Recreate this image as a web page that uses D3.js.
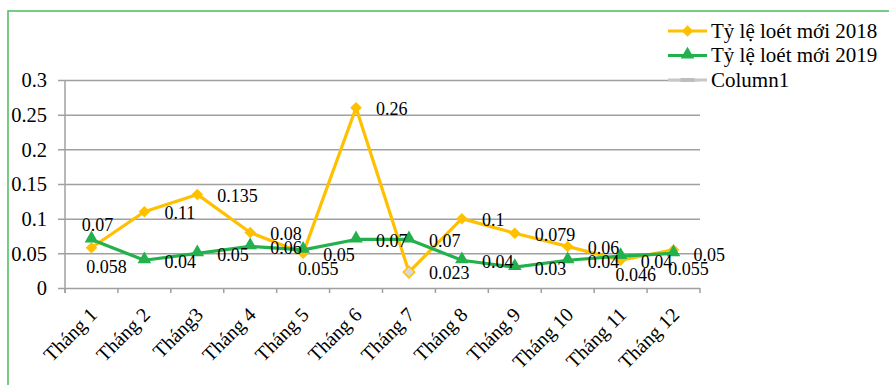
<!DOCTYPE html>
<html>
<head>
<meta charset="utf-8">
<script src="https://cdn.jsdelivr.net/npm/d3@7"></script>
<style>
  html, body { margin: 0; padding: 0; background: #fff; }
  svg { display: block; }
  svg text { font-family: "Liberation Serif", "Times New Roman", "DejaVu Serif", serif !important; }
</style>
</head>
<body>
<svg id="chart" width="889" height="385"></svg>
<script>
// Monthly categories
const months = ["Tháng 1", "Tháng 2", "Tháng3", "Tháng 4", "Tháng 5", "Tháng 6",
                "Tháng 7", "Tháng 8", "Tháng 9", "Tháng 10", "Tháng 11", "Tháng 12"];

// New ulcer rate per month
const rate2018 = [0.058, 0.11, 0.135, 0.08, 0.05, 0.26, 0.023, 0.1, 0.079, 0.06, 0.04, 0.055];
const rate2019 = [0.07, 0.04, 0.05, 0.06, 0.055, 0.07, 0.07, 0.04, 0.03, 0.04, 0.046, 0.05];

// Where each value label sits relative to its point: r = right, b = below, a = above
const place2018 = ["b", "r", "r", "r", "r", "r", "r", "r", "r", "r", "r", "b"];
const place2019 = ["a", "r", "r", "r", "b", "r", "r", "r", "r", "r", "b", "r"];

// Y axis ticks
const yTicks = [0, 0.05, 0.1, 0.15, 0.2, 0.25, 0.3];

const seriesNames = ["Tỷ lệ loét mới 2018", "Tỷ lệ loét mới 2019", "Column1"];

const YELLOW = "#FFC000";
const GREEN = "#22B14C";
const GRID = "#a0a0a0";
const FONT = "'Liberation Serif', 'Times New Roman', serif";

const svg = d3.select("#chart");

// outer chart frame
svg.append("rect")
  .attr("x", 8).attr("y", 11)
  .attr("width", 900).attr("height", 400)
  .attr("fill", "none")
  .attr("stroke", "#4cbb5c")
  .attr("stroke-width", 1.5);

const plot = { left: 65, right: 700, top: 80, bottom: 288 };

const x = d3.scaleBand().domain(months).range([plot.left, plot.right]).padding(0);
const y = d3.scaleLinear().domain([0, 0.3]).range([plot.bottom, plot.top]);
const cx = m => x(m) + x.bandwidth() / 2;

// horizontal gridlines + y tick labels
const yAxis = d3.axisLeft(y).tickValues(yTicks).tickSize(-(plot.right - plot.left + 7))
  .tickFormat(d => String(+d.toFixed(3)));
const gy = svg.append("g").attr("transform", `translate(${plot.left - 7},0)`).call(yAxis)
  .attr("font-family", FONT).attr("font-size", 20.5);
gy.select(".domain").remove();
gy.selectAll(".tick line").attr("stroke", GRID).attr("stroke-width", 1.5);
gy.selectAll(".tick text")
  .attr("x", -11)
  .attr("dy", "0.33em")
  .attr("fill", "#000");

// vertical axis line
svg.append("line")
  .attr("x1", plot.left).attr("x2", plot.left)
  .attr("y1", plot.top).attr("y2", plot.bottom + 5)
  .attr("stroke", GRID).attr("stroke-width", 1.5);

// category boundary ticks under the baseline
const bounds = months.map(m => x(m)).concat([plot.right]);
svg.append("g").selectAll("line").data(bounds).join("line")
  .attr("x1", d => d).attr("x2", d => d)
  .attr("y1", plot.bottom).attr("y2", plot.bottom + 5)
  .attr("stroke", GRID).attr("stroke-width", 1.5);

// rotated month labels
svg.append("g").attr("font-family", FONT).attr("font-size", 20)
  .selectAll("text").data(months).join("text")
  .attr("transform", m => `translate(${cx(m) + 2},${plot.bottom + 23}) rotate(-45)`)
  .attr("text-anchor", "end")
  .attr("dy", "0.35em")
  .attr("fill", "#000")
  .text(m => m);

const line = d3.line().x((d, i) => cx(months[i])).y(d => y(d));

// 2018 series
svg.append("path").datum(rate2018)
  .attr("d", line).attr("fill", "none")
  .attr("stroke", YELLOW).attr("stroke-width", 3.2).attr("stroke-linejoin", "round");

// 2019 series
svg.append("path").datum(rate2019)
  .attr("d", line).attr("fill", "none")
  .attr("stroke", GREEN).attr("stroke-width", 3.2).attr("stroke-linejoin", "round");

const diamond = d3.symbol().type(d3.symbolDiamond2).size(85);
const tri = d3.symbol().type(d3.symbolTriangle).size(80);

svg.append("g").selectAll("path").data(rate2018).join("path")
  .attr("d", diamond)
  .attr("transform", (d, i) => `translate(${cx(months[i])},${y(d)})`)
  .attr("fill", (d, i) => i === 6 ? "#d9d9d9" : YELLOW)
  .attr("stroke", YELLOW)
  .attr("stroke-width", (d, i) => i === 6 ? 1.5 : 0);

svg.append("g").selectAll("path").data(rate2019).join("path")
  .attr("d", tri)
  .attr("transform", (d, i) => `translate(${cx(months[i])},${y(d) - 1})`)
  .attr("fill", GREEN);

// value labels
function labelPos(p) {
  if (p === "b") return { dx: 15, dy: 19, anchor: "middle" };
  if (p === "a") return { dx: 6, dy: -15, anchor: "middle" };
  return { dx: 20, dy: 1, anchor: "start" };
}
function drawLabels(vals, places) {
  svg.append("g").attr("font-family", FONT).attr("font-size", 18)
    .selectAll("text").data(vals).join("text")
    .each(function (d, i) {
      const p = labelPos(places[i]);
      d3.select(this)
        .attr("x", cx(months[i]) + p.dx)
        .attr("y", y(d) + p.dy)
        .attr("text-anchor", p.anchor);
    })
    .attr("dy", "0.35em")
    .attr("fill", "#000")
    .text(d => String(d));
}
drawLabels(rate2018, place2018);
drawLabels(rate2019, place2019);

// legend
const legend = svg.append("g").attr("font-family", FONT).attr("font-size", 21);
const lx1 = 668, lx2 = 707, ly0 = 31, lstep = 24.5;
seriesNames.forEach((name, i) => {
  const ly = ly0 + i * lstep;
  const col = i === 0 ? YELLOW : i === 1 ? GREEN : "#c8c8c8";
  legend.append("line")
    .attr("x1", lx1).attr("x2", lx2).attr("y1", ly).attr("y2", ly)
    .attr("stroke", col).attr("stroke-width", 3);
  if (i === 0) {
    legend.append("path").attr("d", diamond)
      .attr("transform", `translate(${(lx1 + lx2) / 2},${ly})`).attr("fill", YELLOW);
  } else if (i === 1) {
    legend.append("path").attr("d", tri)
      .attr("transform", `translate(${(lx1 + lx2) / 2},${ly - 1})`).attr("fill", GREEN);
  } else {
    legend.append("line")
      .attr("x1", (lx1 + lx2) / 2 - 7).attr("x2", (lx1 + lx2) / 2 + 7)
      .attr("y1", ly).attr("y2", ly)
      .attr("stroke", "#bdbdbd").attr("stroke-width", 4);
  }
  legend.append("text")
    .attr("x", lx2 + 4).attr("y", ly).attr("dy", "0.33em")
    .attr("fill", "#000")
    .text(name);
});
</script>
</body>
</html>
